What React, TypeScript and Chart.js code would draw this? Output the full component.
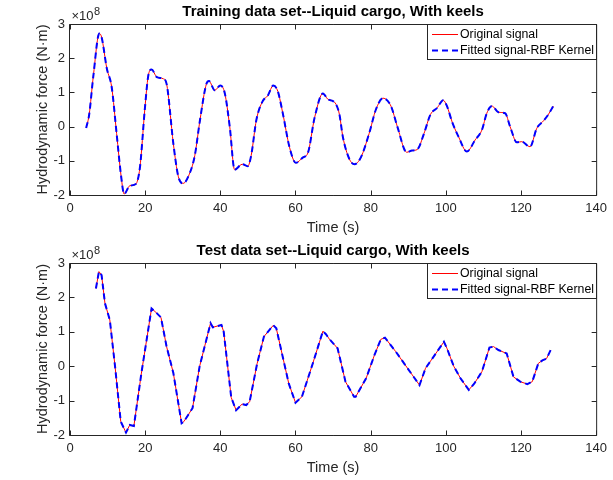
import React, { useEffect, useRef } from 'react';
import { Chart, registerables } from 'chart.js';

Chart.register(...registerables);

const FONT = "'Liberation Sans', Arial, Helvetica, sans-serif";
const AXIS = '#262626';

// ---------- data (values in units of 1e8 N·m) ----------
const trainTime = [4.3, 5.1, 6.2, 7.8, 8.4, 9.8, 11.1, 12.4, 13.6, 14.4, 15.9, 17.5, 18.6, 19.9, 20.8, 21.7, 23.1, 24.8, 25.7, 27.5, 28.8, 30.1, 31.9, 33.2, 34.6, 36.3, 37.0, 38.5, 40.0, 41.2, 42.5, 43.8, 45.8, 47.3, 48.2, 49.6, 51.3, 52.6, 54.1, 55.3, 56.6, 58.4, 60.1, 62.0, 63.3, 65.1, 67.3, 68.6, 69.9, 70.8, 71.7, 72.6, 74.3, 75.7, 77.4, 79.6, 81.4, 83.3, 85.4, 87.1, 89.6, 91.0, 92.4, 94.2, 95.9, 97.7, 99.3, 100.3, 101.7, 103.4, 105.6, 107.8, 109.6, 110.9, 112.3, 114.0, 115.8, 117.1, 118.9, 120.2, 122.4, 124.2, 126.0, 127.2, 128.6];
const trainOriginal = [-0.04, 0.35, 1.47, 2.72, 2.62, 1.7, 1.15, -0.2, -1.45, -1.97, -1.73, -1.68, -1.2, 0.5, 1.47, 1.67, 1.45, 1.4, 1.25, -0.5, -1.45, -1.66, -1.35, -0.85, 0.2, 1.25, 1.33, 1.06, 1.2, 0.97, 0.0, -1.26, -1.1, -1.16, -0.85, 0.2, 0.75, 0.9, 1.2, 1.03, 0.4, -0.6, -1.06, -0.9, -0.77, 0.27, 0.97, 0.8, 0.75, 0.65, 0.35, -0.3, -0.94, -1.1, -0.9, -0.2, 0.5, 0.83, 0.6, 0.0, -0.75, -0.7, -0.67, -0.2, 0.35, 0.55, 0.77, 0.6, 0.13, -0.3, -0.73, -0.39, -0.1, 0.39, 0.6, 0.42, 0.39, 0.0, -0.46, -0.44, -0.59, -0.05, 0.17, 0.34, 0.6];
const trainFitted = [-0.04, 0.35, 1.47, 2.72, 2.62, 1.7, 1.15, -0.2, -1.45, -1.97, -1.73, -1.68, -1.2, 0.5, 1.47, 1.67, 1.45, 1.4, 1.25, -0.5, -1.45, -1.66, -1.35, -0.85, 0.2, 1.25, 1.33, 1.06, 1.2, 0.97, 0.0, -1.26, -1.1, -1.16, -0.85, 0.2, 0.75, 0.9, 1.2, 1.03, 0.4, -0.6, -1.06, -0.9, -0.77, 0.27, 0.97, 0.8, 0.75, 0.65, 0.35, -0.3, -0.94, -1.1, -0.9, -0.2, 0.5, 0.83, 0.6, 0.0, -0.75, -0.7, -0.67, -0.2, 0.35, 0.55, 0.77, 0.6, 0.13, -0.3, -0.73, -0.39, -0.1, 0.39, 0.6, 0.42, 0.39, 0.0, -0.46, -0.44, -0.59, -0.05, 0.17, 0.34, 0.6];

const testTime = [6.9, 7.7, 8.4, 9.3, 10.6, 12.0, 13.5, 14.9, 15.9, 17.0, 19.0, 21.7, 22.9, 24.2, 25.7, 27.5, 29.7, 30.3, 32.6, 34.5, 37.4, 38.0, 40.3, 40.9, 42.9, 44.2, 45.8, 46.9, 47.8, 49.8, 51.6, 54.1, 54.9, 58.2, 60.0, 61.7, 64.6, 67.3, 68.1, 69.0, 71.2, 73.3, 75.6, 76.0, 78.8, 81.0, 82.7, 83.8, 86.7, 93.0, 94.6, 99.5, 100.3, 102.1, 103.9, 106.1, 107.6, 109.6, 111.6, 112.7, 114.0, 116.2, 118.0, 119.8, 121.7, 123.0, 124.6, 125.7, 126.8, 127.9];
const testOriginal = [2.26, 2.75, 2.65, 1.83, 1.34, -0.02, -1.61, -1.93, -1.71, -1.74, -0.2, 1.68, 1.56, 1.42, 0.57, -0.2, -1.66, -1.61, -1.22, 0.0, 1.25, 1.13, 1.2, 1.0, -0.91, -1.28, -1.1, -1.13, -1.03, 0.08, 0.86, 1.19, 1.1, -0.5, -1.06, -0.89, 0.08, 1.02, 0.93, 0.79, 0.52, -0.45, -0.89, -0.89, -0.35, 0.32, 0.78, 0.83, 0.42, -0.55, -0.06, 0.71, 0.52, 0.0, -0.35, -0.69, -0.5, -0.16, 0.54, 0.57, 0.47, 0.37, -0.31, -0.45, -0.52, -0.45, 0.08, 0.17, 0.22, 0.47];
const testFitted = [2.26, 2.75, 2.65, 1.83, 1.34, -0.02, -1.61, -1.93, -1.71, -1.74, -0.2, 1.68, 1.56, 1.42, 0.57, -0.2, -1.66, -1.61, -1.22, 0.0, 1.25, 1.13, 1.2, 1.0, -0.91, -1.28, -1.1, -1.13, -1.03, 0.08, 0.86, 1.19, 1.1, -0.5, -1.06, -0.89, 0.08, 1.02, 0.93, 0.79, 0.52, -0.45, -0.89, -0.89, -0.35, 0.32, 0.78, 0.83, 0.42, -0.55, -0.06, 0.71, 0.52, 0.0, -0.35, -0.69, -0.5, -0.16, 0.54, 0.57, 0.47, 0.37, -0.31, -0.45, -0.52, -0.45, 0.08, 0.17, 0.22, 0.47];

const xTickValues = [0, 20, 40, 60, 80, 100, 120, 140];
const yTickValues = [-2, -1, 0, 1, 2, 3];
const seriesLabels = ['Original signal', 'Fitted signal-RBF Kernel'];
const seriesColors = ['#ff0000', '#0000ff'];
const titles = ['Training data set--Liquid cargo, With keels', 'Test data set--Liquid cargo, With keels'];
const xLabel = 'Time (s)';
const yLabel = 'Hydrodynamic force (N·m)';
const exponentLabel = '8';

const toPoints = (t: number[], v: number[]) => t.map((x, i) => ({ x, y: v[i] }));

const matlabPlugin = {
  id: 'matlabFrame',
  afterDatasetsDraw(chart: any, _args: any, opts: any) {
    const { ctx, chartArea: a, scales } = chart;
    const xs = scales.x;
    const ys = scales.y;
    const L = a.left - 0.5;
    const R = a.right + 0.5;
    const T = a.top + 0.5;
    const B = a.bottom + 0.5;
    ctx.save();
    ctx.strokeStyle = AXIS;
    ctx.lineWidth = 1;
    ctx.setLineDash([]);
    ctx.beginPath();
    ctx.rect(L, T, R - L, B - T);
    const tl = 5;
    xTickValues.forEach((v) => {
      const px = Math.round(xs.getPixelForValue(v)) + 0.5;
      ctx.moveTo(px, B);
      ctx.lineTo(px, B - tl);
      ctx.moveTo(px, T);
      ctx.lineTo(px, T + tl);
    });
    yTickValues.forEach((v) => {
      const py = Math.round(ys.getPixelForValue(v)) + 0.5;
      ctx.moveTo(L, py);
      ctx.lineTo(L + tl, py);
      ctx.moveTo(R, py);
      ctx.lineTo(R - tl, py);
    });
    ctx.stroke();

    // title
    ctx.fillStyle = '#000';
    ctx.font = `bold 15px ${FONT}`;
    ctx.textAlign = 'center';
    ctx.textBaseline = 'middle';
    ctx.fillText(opts.title, (a.left + a.right) / 2, a.top - 12.5);

    // exponent label ×10^8
    ctx.fillStyle = AXIS;
    ctx.textAlign = 'left';
    ctx.font = `13px ${FONT}`;
    const base = '\u00d710';
    const ex = a.left + 1.5;
    ctx.fillText(base, ex, a.top - 7.5);
    const w = ctx.measureText(base).width;
    ctx.font = `11px ${FONT}`;
    ctx.fillText(exponentLabel, ex + w + 0.5, a.top - 12.5);

    // legend
    const lw = 169;
    const lh = 35;
    const lx = Math.round(a.right - lw);
    const ly = Math.round(a.top);
    ctx.fillStyle = '#fff';
    ctx.fillRect(lx, ly, lw, lh);
    ctx.strokeStyle = AXIS;
    ctx.lineWidth = 1;
    ctx.strokeRect(lx + 0.5, ly + 0.5, lw, lh);
    const rows = [ly + 10, ly + 26];
    chart.data.datasets.forEach((ds: any, i: number) => {
      const y = rows[i];
      const bw = ds.borderWidth;
      ctx.fillStyle = seriesColors[i];
      if (ds.borderDash && ds.borderDash.length) {
        const [on, off] = ds.borderDash;
        for (let x = lx + 5; x < lx + 31; x += on + off) {
          ctx.fillRect(x, y - bw / 2 + 0.5, Math.min(on, lx + 31 - x), bw);
        }
      } else {
        ctx.fillRect(lx + 5, y, 26, bw);
      }
      ctx.fillStyle = '#000';
      ctx.font = `12.3px ${FONT}`;
      ctx.textAlign = 'left';
      ctx.textBaseline = 'middle';
      ctx.fillText(ds.label, lx + 33, y + 0.5);
    });
    ctx.restore();
  },
};

function makeConfig(time: number[], orig: number[], fitted: number[], title: string, padTop: number, smooth: boolean): any {
  return {
    type: 'line',
    data: {
      datasets: [
        {
          label: seriesLabels[0],
          data: toPoints(time, orig),
          borderColor: seriesColors[0],
          borderWidth: 1,
          pointRadius: 0,
          fill: false,
          order: 1,
          tension: smooth ? 0.4 : 0,
          cubicInterpolationMode: smooth ? 'monotone' : 'default',
        },
        {
          label: seriesLabels[1],
          data: toPoints(time, fitted),
          borderColor: seriesColors[1],
          borderWidth: 2,
          borderDash: [6, 4],
          pointRadius: 0,
          fill: false,
          order: 0,
          tension: smooth ? 0.4 : 0,
          cubicInterpolationMode: smooth ? 'monotone' : 'default',
        },
      ],
    },
    options: {
      responsive: false,
      animation: false,
      devicePixelRatio: 1,
      layout: { padding: { top: padTop, right: 16, left: 0, bottom: 0 } },
      plugins: {
        legend: { display: false },
        tooltip: { enabled: false },
        title: { display: false },
        matlabFrame: { title },
      },
      scales: {
        x: {
          type: 'linear',
          min: 0,
          max: 140,
          afterBuildTicks: (s: any) => {
            s.ticks = xTickValues.map((value) => ({ value }));
          },
          afterFit: (s: any) => {
            s.height = 45;
          },
          grid: { display: false, drawTicks: false },
          border: { display: false },
          ticks: {
            padding: 6,
            color: AXIS,
            maxRotation: 0,
            autoSkip: false,
            font: { family: FONT, size: 13 },
          },
          title: {
            display: true,
            text: xLabel,
            color: AXIS,
            font: { family: FONT, size: 14.5 },
            padding: { top: 0, bottom: 3 },
          },
        },
        y: {
          type: 'linear',
          min: -2,
          max: 3,
          afterBuildTicks: (s: any) => {
            s.ticks = yTickValues.map((value) => ({ value }));
          },
          afterFit: (s: any) => {
            s.width = 70;
          },
          grid: { display: false, drawTicks: false },
          border: { display: false },
          ticks: {
            padding: 5,
            color: AXIS,
            font: { family: FONT, size: 13 },
          },
          title: {
            display: true,
            text: yLabel,
            color: AXIS,
            font: { family: FONT, size: 14.5 },
            padding: { top: 34, bottom: 0 },
          },
        },
      },
    },
    plugins: [matlabPlugin],
  };
}

function ChartCanvas({ config, top }: { config: any; top: number }) {
  const ref = useRef<HTMLCanvasElement | null>(null);
  useEffect(() => {
    if (!ref.current) return;
    const chart = new Chart(ref.current, config);
    return () => chart.destroy();
  }, [config]);
  return (
    <canvas
      ref={ref}
      width={613}
      height={240}
      style={{ position: 'absolute', left: 0, top, width: 613, height: 240 }}
    />
  );
}

const topConfig = makeConfig(trainTime, trainOriginal, trainFitted, titles[0], 24, true);
const bottomConfig = makeConfig(testTime, testOriginal, testFitted, titles[1], 23, false);

export default function App() {
  return (
    <div style={{ position: 'absolute', left: 0, top: 0, width: 613, height: 480, background: '#fff' }}>
      <ChartCanvas config={topConfig} top={0} />
      <ChartCanvas config={bottomConfig} top={240} />
    </div>
  );
}
